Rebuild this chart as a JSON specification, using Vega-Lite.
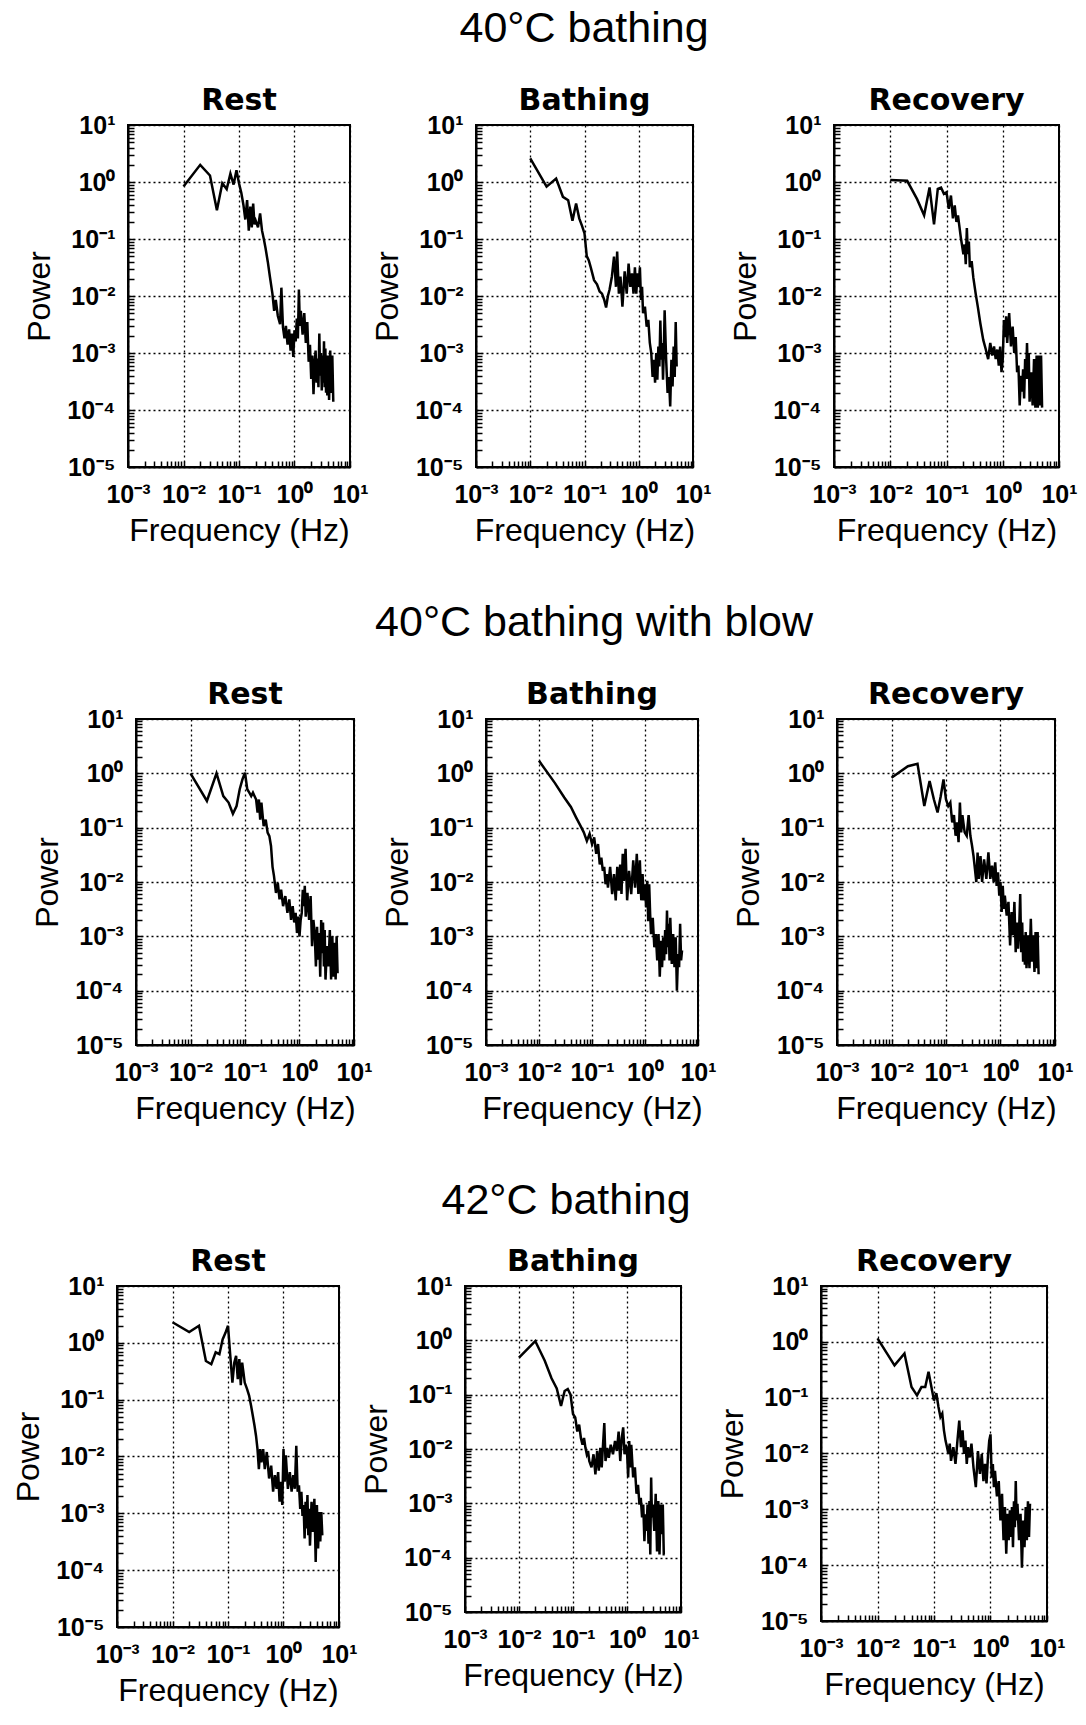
{
  "$schema": "https://vega.github.io/schema/vega-lite/v6.json",
  "padding": {"left": 2, "top": 8, "right": 0, "bottom": 0},
  "background": "white",
  "spacing": 55,
  "vconcat": [
    {
      "title": {"text": "40°C bathing", "font": "Liberation Sans", "fontSize": 43, "fontWeight": "normal", "frame": "bounds", "anchor": "middle", "baseline": "alphabetic", "offset": 0, "dx": 44},
      "spacing": 0,
      "hconcat": [
        {"width": 20, "height": 10, "view": {"stroke": null}, "data": {"values": [{}]}, "mark": {"type": "point", "opacity": 0, "size": 0}},
        {
          "width": 222, "height": 342, "title": "Rest",
          "data": {"values": [{"f":0.01,"p":0.83},{"f":0.02,"p":2.0},{"f":0.03,"p":1.3},{"f":0.04,"p":0.32},{"f":0.05,"p":0.95},{"f":0.06,"p":0.75},{"f":0.07,"p":1.4},{"f":0.08,"p":0.9},{"f":0.09,"p":1.6},{"f":0.10,"p":0.95},{"f":0.11,"p":0.65},{"f":0.12,"p":0.4},{"f":0.13,"p":0.22},{"f":0.14,"p":0.48},{"f":0.15,"p":0.14},{"f":0.16,"p":0.37},{"f":0.17,"p":0.16},{"f":0.18,"p":0.42},{"f":0.19,"p":0.18},{"f":0.20,"p":0.21},{"f":0.22,"p":0.16},{"f":0.24,"p":0.28},{"f":0.26,"p":0.14},{"f":0.28,"p":0.10},{"f":0.30,"p":0.07},{"f":0.33,"p":0.04},{"f":0.36,"p":0.022},{"f":0.40,"p":0.011},{"f":0.43,"p":0.0055},{"f":0.46,"p":0.0085},{"f":0.50,"p":0.0045},{"f":0.55,"p":0.0032},{"f":0.58,"p":0.014},{"f":0.62,"p":0.0028},{"f":0.66,"p":0.0018},{"f":0.70,"p":0.003},{"f":0.75,"p":0.0014},{"f":0.80,"p":0.0026},{"f":0.85,"p":0.0011},{"f":0.90,"p":0.0022},{"f":0.95,"p":0.00085},{"f":1.0,"p":0.0025},{"f":1.05,"p":0.0016},{"f":1.1,"p":0.004},{"f":1.15,"p":0.0018},{"f":1.2,"p":0.013},{"f":1.25,"p":0.003},{"f":1.3,"p":0.0055},{"f":1.4,"p":0.0021},{"f":1.5,"p":0.005},{"f":1.6,"p":0.0015},{"f":1.7,"p":0.0035},{"f":1.8,"p":0.0007},{"f":1.9,"p":0.0014},{"f":2.0,"p":0.00035},{"f":2.1,"p":0.0009},{"f":2.2,"p":0.00019},{"f":2.3,"p":0.0006},{"f":2.4,"p":0.0011},{"f":2.5,"p":0.0003},{"f":2.6,"p":0.0008},{"f":2.7,"p":0.00025},{"f":2.8,"p":0.0022},{"f":2.9,"p":0.0004},{"f":3.0,"p":0.001},{"f":3.1,"p":0.00022},{"f":3.2,"p":0.0009},{"f":3.3,"p":0.0003},{"f":3.4,"p":0.0016},{"f":3.5,"p":0.00025},{"f":3.6,"p":0.0012},{"f":3.7,"p":0.0002},{"f":3.8,"p":0.0008},{"f":3.9,"p":0.00018},{"f":4.0,"p":0.0009},{"f":4.2,"p":0.00015},{"f":4.4,"p":0.0011},{"f":4.6,"p":0.0002},{"f":4.8,"p":0.0009},{"f":5.0,"p":0.00014}]},
          "mark": {"type": "line", "color": "black", "strokeWidth": 2.5, "clip": true},
          "encoding": {
            "x": {"field": "f", "type": "quantitative", "scale": {"type": "log", "domain": [0.001, 10], "nice": false}, "axis": {"title": "Frequency (Hz)", "values": [0.001,0.002,0.003,0.004,0.005,0.006,0.007,0.008,0.009,0.01,0.02,0.03,0.04,0.05,0.06,0.07,0.08,0.09,0.1,0.2,0.3,0.4,0.5,0.6,0.7,0.8,0.9,1,2,3,4,5,6,7,8,9,10], "labelExpr": "abs(log(datum.value)/LN10-round(log(datum.value)/LN10))<0.01 ? '10'+['⁻³','⁻²','⁻¹','⁰','¹'][round(log(datum.value)/LN10)+3] : ''", "grid": true, "gridOpacity": {"condition": {"test": "abs(log(datum.value)/LN10-round(log(datum.value)/LN10))<0.01", "value": 1}, "value": 0}}},
            "y": {"field": "p", "type": "quantitative", "scale": {"type": "log", "domain": [0.00001, 10], "nice": false}, "axis": {"title": "Power", "values": [0.00001,0.00002,0.00003,0.00004,0.00005,0.00006,0.00007,0.00008,0.00009,0.0001,0.0002,0.0003,0.0004,0.0005,0.0006,0.0007,0.0008,0.0009,0.001,0.002,0.003,0.004,0.005,0.006,0.007,0.008,0.009,0.01,0.02,0.03,0.04,0.05,0.06,0.07,0.08,0.09,0.1,0.2,0.3,0.4,0.5,0.6,0.7,0.8,0.9,1,2,3,4,5,6,7,8,9,10], "labelExpr": "abs(log(datum.value)/LN10-round(log(datum.value)/LN10))<0.01 ? '10'+['⁻⁵','⁻⁴','⁻³','⁻²','⁻¹','⁰','¹'][round(log(datum.value)/LN10)+5] : ''", "grid": true, "gridOpacity": {"condition": {"test": "abs(log(datum.value)/LN10-round(log(datum.value)/LN10))<0.01", "value": 1}, "value": 0}}}
          }
        },
        {
          "width": 217, "height": 342, "title": "Bathing",
          "data": {"values": [{"f":0.01,"p":2.6},{"f":0.02,"p":0.83},{"f":0.03,"p":1.15},{"f":0.04,"p":0.55},{"f":0.05,"p":0.48},{"f":0.06,"p":0.21},{"f":0.07,"p":0.42},{"f":0.08,"p":0.23},{"f":0.09,"p":0.17},{"f":0.10,"p":0.125},{"f":0.11,"p":0.05},{"f":0.12,"p":0.042},{"f":0.13,"p":0.032},{"f":0.15,"p":0.019},{"f":0.17,"p":0.016},{"f":0.19,"p":0.012},{"f":0.21,"p":0.011},{"f":0.23,"p":0.0087},{"f":0.25,"p":0.0063},{"f":0.27,"p":0.01},{"f":0.29,"p":0.013},{"f":0.32,"p":0.022},{"f":0.35,"p":0.049},{"f":0.38,"p":0.0145},{"f":0.40,"p":0.06},{"f":0.43,"p":0.011},{"f":0.46,"p":0.022},{"f":0.50,"p":0.0065},{"f":0.55,"p":0.027},{"f":0.60,"p":0.011},{"f":0.65,"p":0.037},{"f":0.70,"p":0.0145},{"f":0.75,"p":0.025},{"f":0.80,"p":0.011},{"f":0.85,"p":0.032},{"f":0.90,"p":0.011},{"f":0.95,"p":0.025},{"f":1.0,"p":0.0145},{"f":1.05,"p":0.032},{"f":1.1,"p":0.0085},{"f":1.15,"p":0.0145},{"f":1.2,"p":0.005},{"f":1.3,"p":0.0065},{"f":1.4,"p":0.0029},{"f":1.5,"p":0.0038},{"f":1.6,"p":0.0015},{"f":1.7,"p":0.001},{"f":1.8,"p":0.00038},{"f":1.9,"p":0.00076},{"f":2.0,"p":0.0003},{"f":2.1,"p":0.001},{"f":2.2,"p":0.00034},{"f":2.3,"p":0.0013},{"f":2.4,"p":0.00058},{"f":2.5,"p":0.0037},{"f":2.6,"p":0.00076},{"f":2.7,"p":0.0015},{"f":2.8,"p":0.00034},{"f":2.9,"p":0.0011},{"f":3.0,"p":0.0056},{"f":3.2,"p":0.00076},{"f":3.4,"p":0.0002},{"f":3.6,"p":0.00038},{"f":3.8,"p":0.000115},{"f":4.0,"p":0.00076},{"f":4.2,"p":0.00026},{"f":4.4,"p":0.0013},{"f":4.6,"p":0.00038},{"f":4.8,"p":0.0035},{"f":5.0,"p":0.00058}]},
          "mark": {"type": "line", "color": "black", "strokeWidth": 2.5, "clip": true},
          "encoding": {
            "x": {"field": "f", "type": "quantitative", "scale": {"type": "log", "domain": [0.001, 10], "nice": false}, "axis": {"title": "Frequency (Hz)", "values": [0.001,0.002,0.003,0.004,0.005,0.006,0.007,0.008,0.009,0.01,0.02,0.03,0.04,0.05,0.06,0.07,0.08,0.09,0.1,0.2,0.3,0.4,0.5,0.6,0.7,0.8,0.9,1,2,3,4,5,6,7,8,9,10], "labelExpr": "abs(log(datum.value)/LN10-round(log(datum.value)/LN10))<0.01 ? '10'+['⁻³','⁻²','⁻¹','⁰','¹'][round(log(datum.value)/LN10)+3] : ''", "grid": true, "gridOpacity": {"condition": {"test": "abs(log(datum.value)/LN10-round(log(datum.value)/LN10))<0.01", "value": 1}, "value": 0}}},
            "y": {"field": "p", "type": "quantitative", "scale": {"type": "log", "domain": [0.00001, 10], "nice": false}, "axis": {"title": "Power", "values": [0.00001,0.00002,0.00003,0.00004,0.00005,0.00006,0.00007,0.00008,0.00009,0.0001,0.0002,0.0003,0.0004,0.0005,0.0006,0.0007,0.0008,0.0009,0.001,0.002,0.003,0.004,0.005,0.006,0.007,0.008,0.009,0.01,0.02,0.03,0.04,0.05,0.06,0.07,0.08,0.09,0.1,0.2,0.3,0.4,0.5,0.6,0.7,0.8,0.9,1,2,3,4,5,6,7,8,9,10], "labelExpr": "abs(log(datum.value)/LN10-round(log(datum.value)/LN10))<0.01 ? '10'+['⁻⁵','⁻⁴','⁻³','⁻²','⁻¹','⁰','¹'][round(log(datum.value)/LN10)+5] : ''", "grid": true, "gridOpacity": {"condition": {"test": "abs(log(datum.value)/LN10-round(log(datum.value)/LN10))<0.01", "value": 1}, "value": 0}}}
          }
        },
        {"width": 15, "height": 10, "view": {"stroke": null}, "data": {"values": [{}]}, "mark": {"type": "point", "opacity": 0, "size": 0}},
        {
          "width": 225, "height": 342, "title": "Recovery",
          "data": {"values": [{"f":0.01,"p":1.08},{"f":0.02,"p":1.05},{"f":0.03,"p":0.5},{"f":0.04,"p":0.26},{"f":0.05,"p":0.8},{"f":0.06,"p":0.18},{"f":0.07,"p":0.76},{"f":0.08,"p":0.8},{"f":0.09,"p":0.62},{"f":0.10,"p":0.66},{"f":0.11,"p":0.34},{"f":0.12,"p":0.58},{"f":0.13,"p":0.23},{"f":0.14,"p":0.39},{"f":0.15,"p":0.2},{"f":0.16,"p":0.26},{"f":0.18,"p":0.105},{"f":0.20,"p":0.054},{"f":0.21,"p":0.08},{"f":0.22,"p":0.036},{"f":0.23,"p":0.155},{"f":0.24,"p":0.054},{"f":0.25,"p":0.09},{"f":0.26,"p":0.032},{"f":0.28,"p":0.041},{"f":0.30,"p":0.021},{"f":0.33,"p":0.011},{"f":0.36,"p":0.0065},{"f":0.40,"p":0.0033},{"f":0.45,"p":0.0017},{"f":0.50,"p":0.00115},{"f":0.55,"p":0.00078},{"f":0.60,"p":0.0015},{"f":0.65,"p":0.0009},{"f":0.70,"p":0.0013},{"f":0.75,"p":0.00078},{"f":0.80,"p":0.00115},{"f":0.85,"p":0.0006},{"f":0.90,"p":0.0013},{"f":0.95,"p":0.00046},{"f":1.0,"p":0.00078},{"f":1.05,"p":0.0038},{"f":1.1,"p":0.0019},{"f":1.15,"p":0.0044},{"f":1.2,"p":0.0015},{"f":1.3,"p":0.005},{"f":1.4,"p":0.0013},{"f":1.5,"p":0.0029},{"f":1.6,"p":0.001},{"f":1.7,"p":0.0019},{"f":1.8,"p":0.00046},{"f":1.9,"p":0.0006},{"f":2.0,"p":0.00012},{"f":2.1,"p":0.0004},{"f":2.2,"p":0.00021},{"f":2.3,"p":0.00052},{"f":2.4,"p":0.00016},{"f":2.5,"p":0.00078},{"f":2.6,"p":0.00035},{"f":2.7,"p":0.0015},{"f":2.8,"p":0.00035},{"f":2.9,"p":0.001},{"f":3.0,"p":0.00014},{"f":3.2,"p":0.00046},{"f":3.4,"p":0.00012},{"f":3.6,"p":0.00078},{"f":3.8,"p":0.00011},{"f":4.0,"p":0.0009},{"f":4.2,"p":0.00011},{"f":4.4,"p":0.0009},{"f":4.6,"p":0.00012},{"f":4.8,"p":0.0009},{"f":5.0,"p":0.00011}]},
          "mark": {"type": "line", "color": "black", "strokeWidth": 2.5, "clip": true},
          "encoding": {
            "x": {"field": "f", "type": "quantitative", "scale": {"type": "log", "domain": [0.001, 10], "nice": false}, "axis": {"title": "Frequency (Hz)", "values": [0.001,0.002,0.003,0.004,0.005,0.006,0.007,0.008,0.009,0.01,0.02,0.03,0.04,0.05,0.06,0.07,0.08,0.09,0.1,0.2,0.3,0.4,0.5,0.6,0.7,0.8,0.9,1,2,3,4,5,6,7,8,9,10], "labelExpr": "abs(log(datum.value)/LN10-round(log(datum.value)/LN10))<0.01 ? '10'+['⁻³','⁻²','⁻¹','⁰','¹'][round(log(datum.value)/LN10)+3] : ''", "grid": true, "gridOpacity": {"condition": {"test": "abs(log(datum.value)/LN10-round(log(datum.value)/LN10))<0.01", "value": 1}, "value": 0}}},
            "y": {"field": "p", "type": "quantitative", "scale": {"type": "log", "domain": [0.00001, 10], "nice": false}, "axis": {"title": "Power", "values": [0.00001,0.00002,0.00003,0.00004,0.00005,0.00006,0.00007,0.00008,0.00009,0.0001,0.0002,0.0003,0.0004,0.0005,0.0006,0.0007,0.0008,0.0009,0.001,0.002,0.003,0.004,0.005,0.006,0.007,0.008,0.009,0.01,0.02,0.03,0.04,0.05,0.06,0.07,0.08,0.09,0.1,0.2,0.3,0.4,0.5,0.6,0.7,0.8,0.9,1,2,3,4,5,6,7,8,9,10], "labelExpr": "abs(log(datum.value)/LN10-round(log(datum.value)/LN10))<0.01 ? '10'+['⁻⁵','⁻⁴','⁻³','⁻²','⁻¹','⁰','¹'][round(log(datum.value)/LN10)+5] : ''", "grid": true, "gridOpacity": {"condition": {"test": "abs(log(datum.value)/LN10-round(log(datum.value)/LN10))<0.01", "value": 1}, "value": 0}}}
          }
        }
      ]
    },
    {
      "title": {"text": "40°C bathing with blow", "font": "Liberation Sans", "fontSize": 43, "fontWeight": "normal", "frame": "bounds", "anchor": "middle", "baseline": "alphabetic", "offset": 0, "dx": 56},
      "spacing": 0,
      "hconcat": [
        {"width": 28, "height": 10, "view": {"stroke": null}, "data": {"values": [{}]}, "mark": {"type": "point", "opacity": 0, "size": 0}},
        {
          "width": 218, "height": 326, "title": "Rest",
          "data": {"values": [{"f":0.01,"p":1.0},{"f":0.02,"p":0.31},{"f":0.03,"p":1.0},{"f":0.04,"p":0.38},{"f":0.05,"p":0.29},{"f":0.06,"p":0.18},{"f":0.07,"p":0.25},{"f":0.08,"p":0.51},{"f":0.09,"p":0.78},{"f":0.10,"p":1.03},{"f":0.11,"p":0.51},{"f":0.12,"p":0.44},{"f":0.13,"p":0.38},{"f":0.14,"p":0.44},{"f":0.15,"p":0.38},{"f":0.16,"p":0.33},{"f":0.17,"p":0.19},{"f":0.18,"p":0.33},{"f":0.19,"p":0.14},{"f":0.20,"p":0.29},{"f":0.22,"p":0.107},{"f":0.24,"p":0.14},{"f":0.26,"p":0.081},{"f":0.28,"p":0.07},{"f":0.30,"p":0.046},{"f":0.32,"p":0.019},{"f":0.34,"p":0.013},{"f":0.37,"p":0.0063},{"f":0.40,"p":0.0096},{"f":0.43,"p":0.0048},{"f":0.46,"p":0.0072},{"f":0.50,"p":0.0036},{"f":0.55,"p":0.0055},{"f":0.60,"p":0.0027},{"f":0.65,"p":0.0048},{"f":0.70,"p":0.002},{"f":0.75,"p":0.0036},{"f":0.80,"p":0.0018},{"f":0.85,"p":0.0027},{"f":0.90,"p":0.00115},{"f":0.95,"p":0.0023},{"f":1.0,"p":0.001},{"f":1.05,"p":0.002},{"f":1.1,"p":0.0027},{"f":1.15,"p":0.0072},{"f":1.2,"p":0.0036},{"f":1.25,"p":0.0085},{"f":1.3,"p":0.0023},{"f":1.4,"p":0.0063},{"f":1.5,"p":0.002},{"f":1.6,"p":0.0055},{"f":1.7,"p":0.00066},{"f":1.8,"p":0.002},{"f":1.9,"p":0.00115},{"f":2.0,"p":0.00028},{"f":2.1,"p":0.0015},{"f":2.2,"p":0.00037},{"f":2.3,"p":0.00115},{"f":2.4,"p":0.00018},{"f":2.5,"p":0.002},{"f":2.6,"p":0.00049},{"f":2.7,"p":0.0018},{"f":2.8,"p":0.00028},{"f":2.9,"p":0.0013},{"f":3.0,"p":0.00016},{"f":3.2,"p":0.00066},{"f":3.4,"p":0.00028},{"f":3.6,"p":0.0013},{"f":3.8,"p":0.00016},{"f":4.0,"p":0.001},{"f":4.2,"p":0.00018},{"f":4.4,"p":0.00076},{"f":4.6,"p":0.00016},{"f":4.8,"p":0.001},{"f":5.0,"p":0.00021}]},
          "mark": {"type": "line", "color": "black", "strokeWidth": 2.5, "clip": true},
          "encoding": {
            "x": {"field": "f", "type": "quantitative", "scale": {"type": "log", "domain": [0.001, 10], "nice": false}, "axis": {"title": "Frequency (Hz)", "values": [0.001,0.002,0.003,0.004,0.005,0.006,0.007,0.008,0.009,0.01,0.02,0.03,0.04,0.05,0.06,0.07,0.08,0.09,0.1,0.2,0.3,0.4,0.5,0.6,0.7,0.8,0.9,1,2,3,4,5,6,7,8,9,10], "labelExpr": "abs(log(datum.value)/LN10-round(log(datum.value)/LN10))<0.01 ? '10'+['⁻³','⁻²','⁻¹','⁰','¹'][round(log(datum.value)/LN10)+3] : ''", "grid": true, "gridOpacity": {"condition": {"test": "abs(log(datum.value)/LN10-round(log(datum.value)/LN10))<0.01", "value": 1}, "value": 0}}},
            "y": {"field": "p", "type": "quantitative", "scale": {"type": "log", "domain": [0.00001, 10], "nice": false}, "axis": {"title": "Power", "values": [0.00001,0.00002,0.00003,0.00004,0.00005,0.00006,0.00007,0.00008,0.00009,0.0001,0.0002,0.0003,0.0004,0.0005,0.0006,0.0007,0.0008,0.0009,0.001,0.002,0.003,0.004,0.005,0.006,0.007,0.008,0.009,0.01,0.02,0.03,0.04,0.05,0.06,0.07,0.08,0.09,0.1,0.2,0.3,0.4,0.5,0.6,0.7,0.8,0.9,1,2,3,4,5,6,7,8,9,10], "labelExpr": "abs(log(datum.value)/LN10-round(log(datum.value)/LN10))<0.01 ? '10'+['⁻⁵','⁻⁴','⁻³','⁻²','⁻¹','⁰','¹'][round(log(datum.value)/LN10)+5] : ''", "grid": true, "gridOpacity": {"condition": {"test": "abs(log(datum.value)/LN10-round(log(datum.value)/LN10))<0.01", "value": 1}, "value": 0}}}
          }
        },
        {"width": 6, "height": 10, "view": {"stroke": null}, "data": {"values": [{}]}, "mark": {"type": "point", "opacity": 0, "size": 0}},
        {
          "width": 212, "height": 326, "title": "Bathing",
          "data": {"values": [{"f":0.01,"p":1.7},{"f":0.02,"p":0.66},{"f":0.03,"p":0.36},{"f":0.04,"p":0.24},{"f":0.05,"p":0.155},{"f":0.06,"p":0.11},{"f":0.07,"p":0.082},{"f":0.08,"p":0.057},{"f":0.09,"p":0.077},{"f":0.10,"p":0.05},{"f":0.11,"p":0.066},{"f":0.12,"p":0.033},{"f":0.13,"p":0.05},{"f":0.14,"p":0.021},{"f":0.15,"p":0.028},{"f":0.16,"p":0.016},{"f":0.17,"p":0.019},{"f":0.18,"p":0.0091},{"f":0.19,"p":0.014},{"f":0.20,"p":0.0079},{"f":0.22,"p":0.019},{"f":0.24,"p":0.006},{"f":0.26,"p":0.014},{"f":0.28,"p":0.0046},{"f":0.30,"p":0.019},{"f":0.32,"p":0.0069},{"f":0.34,"p":0.021},{"f":0.36,"p":0.006},{"f":0.38,"p":0.033},{"f":0.40,"p":0.0105},{"f":0.43,"p":0.041},{"f":0.46,"p":0.0046},{"f":0.50,"p":0.016},{"f":0.55,"p":0.006},{"f":0.60,"p":0.025},{"f":0.65,"p":0.0079},{"f":0.70,"p":0.033},{"f":0.75,"p":0.006},{"f":0.80,"p":0.025},{"f":0.85,"p":0.0046},{"f":0.90,"p":0.014},{"f":0.95,"p":0.0046},{"f":1.0,"p":0.0091},{"f":1.05,"p":0.0034},{"f":1.1,"p":0.0105},{"f":1.15,"p":0.0019},{"f":1.2,"p":0.0091},{"f":1.25,"p":0.0026},{"f":1.3,"p":0.0011},{"f":1.4,"p":0.0022},{"f":1.5,"p":0.00063},{"f":1.6,"p":0.0011},{"f":1.7,"p":0.00036},{"f":1.8,"p":0.0011},{"f":1.9,"p":0.00018},{"f":2.0,"p":0.00083},{"f":2.1,"p":0.00027},{"f":2.2,"p":0.00096},{"f":2.3,"p":0.00036},{"f":2.4,"p":0.0013},{"f":2.5,"p":0.00047},{"f":2.6,"p":0.003},{"f":2.7,"p":0.00063},{"f":2.8,"p":0.0017},{"f":2.9,"p":0.00036},{"f":3.0,"p":0.0022},{"f":3.2,"p":0.00031},{"f":3.4,"p":0.0011},{"f":3.6,"p":0.00027},{"f":3.8,"p":0.00096},{"f":4.0,"p":0.0001},{"f":4.2,"p":0.00047},{"f":4.4,"p":0.00027},{"f":4.6,"p":0.0017},{"f":4.8,"p":0.00036},{"f":5.0,"p":0.00055}]},
          "mark": {"type": "line", "color": "black", "strokeWidth": 2.5, "clip": true},
          "encoding": {
            "x": {"field": "f", "type": "quantitative", "scale": {"type": "log", "domain": [0.001, 10], "nice": false}, "axis": {"title": "Frequency (Hz)", "values": [0.001,0.002,0.003,0.004,0.005,0.006,0.007,0.008,0.009,0.01,0.02,0.03,0.04,0.05,0.06,0.07,0.08,0.09,0.1,0.2,0.3,0.4,0.5,0.6,0.7,0.8,0.9,1,2,3,4,5,6,7,8,9,10], "labelExpr": "abs(log(datum.value)/LN10-round(log(datum.value)/LN10))<0.01 ? '10'+['⁻³','⁻²','⁻¹','⁰','¹'][round(log(datum.value)/LN10)+3] : ''", "grid": true, "gridOpacity": {"condition": {"test": "abs(log(datum.value)/LN10-round(log(datum.value)/LN10))<0.01", "value": 1}, "value": 0}}},
            "y": {"field": "p", "type": "quantitative", "scale": {"type": "log", "domain": [0.00001, 10], "nice": false}, "axis": {"title": "Power", "values": [0.00001,0.00002,0.00003,0.00004,0.00005,0.00006,0.00007,0.00008,0.00009,0.0001,0.0002,0.0003,0.0004,0.0005,0.0006,0.0007,0.0008,0.0009,0.001,0.002,0.003,0.004,0.005,0.006,0.007,0.008,0.009,0.01,0.02,0.03,0.04,0.05,0.06,0.07,0.08,0.09,0.1,0.2,0.3,0.4,0.5,0.6,0.7,0.8,0.9,1,2,3,4,5,6,7,8,9,10], "labelExpr": "abs(log(datum.value)/LN10-round(log(datum.value)/LN10))<0.01 ? '10'+['⁻⁵','⁻⁴','⁻³','⁻²','⁻¹','⁰','¹'][round(log(datum.value)/LN10)+5] : ''", "grid": true, "gridOpacity": {"condition": {"test": "abs(log(datum.value)/LN10-round(log(datum.value)/LN10))<0.01", "value": 1}, "value": 0}}}
          }
        },
        {"width": 13, "height": 10, "view": {"stroke": null}, "data": {"values": [{}]}, "mark": {"type": "point", "opacity": 0, "size": 0}},
        {
          "width": 218, "height": 326, "title": "Recovery",
          "data": {"values": [{"f":0.01,"p":0.83},{"f":0.02,"p":1.35},{"f":0.03,"p":1.5},{"f":0.04,"p":0.25},{"f":0.05,"p":0.72},{"f":0.06,"p":0.33},{"f":0.07,"p":0.19},{"f":0.08,"p":0.38},{"f":0.09,"p":0.77},{"f":0.10,"p":0.33},{"f":0.11,"p":0.25},{"f":0.12,"p":0.29},{"f":0.13,"p":0.125},{"f":0.14,"p":0.17},{"f":0.15,"p":0.071},{"f":0.16,"p":0.125},{"f":0.17,"p":0.054},{"f":0.18,"p":0.29},{"f":0.19,"p":0.082},{"f":0.20,"p":0.17},{"f":0.22,"p":0.082},{"f":0.24,"p":0.071},{"f":0.26,"p":0.17},{"f":0.28,"p":0.071},{"f":0.30,"p":0.047},{"f":0.32,"p":0.03},{"f":0.34,"p":0.017},{"f":0.36,"p":0.01},{"f":0.38,"p":0.035},{"f":0.40,"p":0.0114},{"f":0.43,"p":0.03},{"f":0.46,"p":0.01},{"f":0.50,"p":0.026},{"f":0.55,"p":0.0114},{"f":0.60,"p":0.035},{"f":0.65,"p":0.0114},{"f":0.70,"p":0.02},{"f":0.75,"p":0.01},{"f":0.80,"p":0.023},{"f":0.85,"p":0.0085},{"f":0.90,"p":0.015},{"f":0.95,"p":0.0056},{"f":1.0,"p":0.01},{"f":1.05,"p":0.0028},{"f":1.1,"p":0.0085},{"f":1.15,"p":0.0032},{"f":1.2,"p":0.0056},{"f":1.3,"p":0.0024},{"f":1.4,"p":0.0043},{"f":1.5,"p":0.00068},{"f":1.6,"p":0.0028},{"f":1.7,"p":0.00105},{"f":1.8,"p":0.0043},{"f":1.9,"p":0.00051},{"f":2.0,"p":0.0018},{"f":2.1,"p":0.00059},{"f":2.2,"p":0.0014},{"f":2.3,"p":0.006},{"f":2.4,"p":0.00051},{"f":2.5,"p":0.0018},{"f":2.6,"p":0.00034},{"f":2.7,"p":0.00105},{"f":2.8,"p":0.0003},{"f":2.9,"p":0.0012},{"f":3.0,"p":0.00026},{"f":3.2,"p":0.00105},{"f":3.4,"p":0.00026},{"f":3.6,"p":0.0021},{"f":3.8,"p":0.00034},{"f":4.0,"p":0.00105},{"f":4.2,"p":0.00022},{"f":4.4,"p":0.0012},{"f":4.6,"p":0.00026},{"f":4.8,"p":0.0012},{"f":5.0,"p":0.0002}]},
          "mark": {"type": "line", "color": "black", "strokeWidth": 2.5, "clip": true},
          "encoding": {
            "x": {"field": "f", "type": "quantitative", "scale": {"type": "log", "domain": [0.001, 10], "nice": false}, "axis": {"title": "Frequency (Hz)", "values": [0.001,0.002,0.003,0.004,0.005,0.006,0.007,0.008,0.009,0.01,0.02,0.03,0.04,0.05,0.06,0.07,0.08,0.09,0.1,0.2,0.3,0.4,0.5,0.6,0.7,0.8,0.9,1,2,3,4,5,6,7,8,9,10], "labelExpr": "abs(log(datum.value)/LN10-round(log(datum.value)/LN10))<0.01 ? '10'+['⁻³','⁻²','⁻¹','⁰','¹'][round(log(datum.value)/LN10)+3] : ''", "grid": true, "gridOpacity": {"condition": {"test": "abs(log(datum.value)/LN10-round(log(datum.value)/LN10))<0.01", "value": 1}, "value": 0}}},
            "y": {"field": "p", "type": "quantitative", "scale": {"type": "log", "domain": [0.00001, 10], "nice": false}, "axis": {"title": "Power", "values": [0.00001,0.00002,0.00003,0.00004,0.00005,0.00006,0.00007,0.00008,0.00009,0.0001,0.0002,0.0003,0.0004,0.0005,0.0006,0.0007,0.0008,0.0009,0.001,0.002,0.003,0.004,0.005,0.006,0.007,0.008,0.009,0.01,0.02,0.03,0.04,0.05,0.06,0.07,0.08,0.09,0.1,0.2,0.3,0.4,0.5,0.6,0.7,0.8,0.9,1,2,3,4,5,6,7,8,9,10], "labelExpr": "abs(log(datum.value)/LN10-round(log(datum.value)/LN10))<0.01 ? '10'+['⁻⁵','⁻⁴','⁻³','⁻²','⁻¹','⁰','¹'][round(log(datum.value)/LN10)+5] : ''", "grid": true, "gridOpacity": {"condition": {"test": "abs(log(datum.value)/LN10-round(log(datum.value)/LN10))<0.01", "value": 1}, "value": 0}}}
          }
        }
      ]
    },
    {
      "title": {"text": "42°C bathing", "font": "Liberation Sans", "fontSize": 43, "fontWeight": "normal", "frame": "bounds", "anchor": "middle", "baseline": "alphabetic", "offset": -11, "dx": 32},
      "spacing": 0,
      "hconcat": [
        {"width": 9, "height": 10, "view": {"stroke": null}, "data": {"values": [{}]}, "mark": {"type": "point", "opacity": 0, "size": 0}},
        {
          "width": 222, "height": 341, "title": "Rest",
          "data": {"values": [{"f":0.01,"p":2.3},{"f":0.02,"p":1.55},{"f":0.03,"p":2.0},{"f":0.04,"p":0.48},{"f":0.05,"p":0.42},{"f":0.06,"p":0.68},{"f":0.07,"p":0.63},{"f":0.08,"p":1.15},{"f":0.09,"p":1.5},{"f":0.10,"p":2.0},{"f":0.11,"p":0.59},{"f":0.12,"p":0.2},{"f":0.13,"p":0.45},{"f":0.14,"p":0.59},{"f":0.15,"p":0.23},{"f":0.16,"p":0.52},{"f":0.17,"p":0.18},{"f":0.18,"p":0.45},{"f":0.19,"p":0.3},{"f":0.20,"p":0.2},{"f":0.22,"p":0.155},{"f":0.24,"p":0.118},{"f":0.26,"p":0.079},{"f":0.28,"p":0.052},{"f":0.30,"p":0.035},{"f":0.32,"p":0.023},{"f":0.34,"p":0.0135},{"f":0.36,"p":0.006},{"f":0.38,"p":0.0135},{"f":0.40,"p":0.0079},{"f":0.43,"p":0.0135},{"f":0.46,"p":0.006},{"f":0.50,"p":0.012},{"f":0.55,"p":0.0041},{"f":0.60,"p":0.0069},{"f":0.65,"p":0.0024},{"f":0.70,"p":0.0047},{"f":0.75,"p":0.0027},{"f":0.80,"p":0.0053},{"f":0.85,"p":0.0016},{"f":0.90,"p":0.0036},{"f":0.95,"p":0.0014},{"f":1.0,"p":0.0135},{"f":1.05,"p":0.0036},{"f":1.1,"p":0.0105},{"f":1.2,"p":0.0027},{"f":1.3,"p":0.0053},{"f":1.4,"p":0.0024},{"f":1.5,"p":0.0047},{"f":1.6,"p":0.0027},{"f":1.7,"p":0.0155},{"f":1.8,"p":0.0024},{"f":1.9,"p":0.0031},{"f":2.0,"p":0.0012},{"f":2.1,"p":0.0024},{"f":2.2,"p":0.0009},{"f":2.3,"p":0.0014},{"f":2.4,"p":0.00036},{"f":2.5,"p":0.0016},{"f":2.6,"p":0.00054},{"f":2.7,"p":0.0021},{"f":2.8,"p":0.00041},{"f":2.9,"p":0.0012},{"f":3.0,"p":0.00027},{"f":3.2,"p":0.0016},{"f":3.4,"p":0.00047},{"f":3.6,"p":0.0018},{"f":3.8,"p":0.00014},{"f":4.0,"p":0.0014},{"f":4.2,"p":0.00024},{"f":4.4,"p":0.00105},{"f":4.6,"p":0.00032},{"f":4.8,"p":0.00105},{"f":5.0,"p":0.00041}]},
          "mark": {"type": "line", "color": "black", "strokeWidth": 2.5, "clip": true},
          "encoding": {
            "x": {"field": "f", "type": "quantitative", "scale": {"type": "log", "domain": [0.001, 10], "nice": false}, "axis": {"title": "Frequency (Hz)", "values": [0.001,0.002,0.003,0.004,0.005,0.006,0.007,0.008,0.009,0.01,0.02,0.03,0.04,0.05,0.06,0.07,0.08,0.09,0.1,0.2,0.3,0.4,0.5,0.6,0.7,0.8,0.9,1,2,3,4,5,6,7,8,9,10], "labelExpr": "abs(log(datum.value)/LN10-round(log(datum.value)/LN10))<0.01 ? '10'+['⁻³','⁻²','⁻¹','⁰','¹'][round(log(datum.value)/LN10)+3] : ''", "grid": true, "gridOpacity": {"condition": {"test": "abs(log(datum.value)/LN10-round(log(datum.value)/LN10))<0.01", "value": 1}, "value": 0}}},
            "y": {"field": "p", "type": "quantitative", "scale": {"type": "log", "domain": [0.00001, 10], "nice": false}, "axis": {"title": "Power", "values": [0.00001,0.00002,0.00003,0.00004,0.00005,0.00006,0.00007,0.00008,0.00009,0.0001,0.0002,0.0003,0.0004,0.0005,0.0006,0.0007,0.0008,0.0009,0.001,0.002,0.003,0.004,0.005,0.006,0.007,0.008,0.009,0.01,0.02,0.03,0.04,0.05,0.06,0.07,0.08,0.09,0.1,0.2,0.3,0.4,0.5,0.6,0.7,0.8,0.9,1,2,3,4,5,6,7,8,9,10], "labelExpr": "abs(log(datum.value)/LN10-round(log(datum.value)/LN10))<0.01 ? '10'+['⁻⁵','⁻⁴','⁻³','⁻²','⁻¹','⁰','¹'][round(log(datum.value)/LN10)+5] : ''", "grid": true, "gridOpacity": {"condition": {"test": "abs(log(datum.value)/LN10-round(log(datum.value)/LN10))<0.01", "value": 1}, "value": 0}}}
          }
        },
        {
          "width": 216, "height": 326, "title": "Bathing",
          "data": {"values": [{"f":0.01,"p":0.48},{"f":0.02,"p":0.97},{"f":0.03,"p":0.42},{"f":0.04,"p":0.2},{"f":0.05,"p":0.13},{"f":0.06,"p":0.062},{"f":0.07,"p":0.117},{"f":0.08,"p":0.127},{"f":0.09,"p":0.1},{"f":0.10,"p":0.044},{"f":0.11,"p":0.038},{"f":0.12,"p":0.021},{"f":0.13,"p":0.028},{"f":0.14,"p":0.016},{"f":0.15,"p":0.012},{"f":0.16,"p":0.016},{"f":0.17,"p":0.0105},{"f":0.18,"p":0.008},{"f":0.19,"p":0.0092},{"f":0.20,"p":0.006},{"f":0.22,"p":0.0046},{"f":0.24,"p":0.008},{"f":0.26,"p":0.0034},{"f":0.28,"p":0.0092},{"f":0.30,"p":0.004},{"f":0.32,"p":0.0105},{"f":0.34,"p":0.0046},{"f":0.36,"p":0.012},{"f":0.38,"p":0.03},{"f":0.40,"p":0.006},{"f":0.43,"p":0.0105},{"f":0.46,"p":0.0069},{"f":0.50,"p":0.012},{"f":0.55,"p":0.008},{"f":0.60,"p":0.014},{"f":0.65,"p":0.0092},{"f":0.70,"p":0.021},{"f":0.75,"p":0.006},{"f":0.80,"p":0.016},{"f":0.85,"p":0.025},{"f":0.90,"p":0.008},{"f":0.95,"p":0.012},{"f":1.0,"p":0.0092},{"f":1.05,"p":0.003},{"f":1.1,"p":0.014},{"f":1.15,"p":0.0046},{"f":1.2,"p":0.012},{"f":1.3,"p":0.003},{"f":1.4,"p":0.0046},{"f":1.5,"p":0.0015},{"f":1.6,"p":0.0022},{"f":1.7,"p":0.00095},{"f":1.8,"p":0.00126},{"f":1.9,"p":0.00055},{"f":2.0,"p":0.00095},{"f":2.1,"p":0.0002},{"f":2.2,"p":0.00063},{"f":2.3,"p":0.00031},{"f":2.4,"p":0.00095},{"f":2.5,"p":0.00018},{"f":2.6,"p":0.0011},{"f":2.7,"p":0.000115},{"f":2.8,"p":0.003},{"f":2.9,"p":0.00055},{"f":3.0,"p":0.00095},{"f":3.2,"p":0.00031},{"f":3.4,"p":0.0015},{"f":3.6,"p":0.00013},{"f":3.8,"p":0.0011},{"f":4.0,"p":0.000115},{"f":4.2,"p":0.00095},{"f":4.4,"p":0.00027},{"f":4.6,"p":0.00095},{"f":4.8,"p":0.000115},{"f":5.0,"p":0.000115}]},
          "mark": {"type": "line", "color": "black", "strokeWidth": 2.5, "clip": true},
          "encoding": {
            "x": {"field": "f", "type": "quantitative", "scale": {"type": "log", "domain": [0.001, 10], "nice": false}, "axis": {"title": "Frequency (Hz)", "values": [0.001,0.002,0.003,0.004,0.005,0.006,0.007,0.008,0.009,0.01,0.02,0.03,0.04,0.05,0.06,0.07,0.08,0.09,0.1,0.2,0.3,0.4,0.5,0.6,0.7,0.8,0.9,1,2,3,4,5,6,7,8,9,10], "labelExpr": "abs(log(datum.value)/LN10-round(log(datum.value)/LN10))<0.01 ? '10'+['⁻³','⁻²','⁻¹','⁰','¹'][round(log(datum.value)/LN10)+3] : ''", "grid": true, "gridOpacity": {"condition": {"test": "abs(log(datum.value)/LN10-round(log(datum.value)/LN10))<0.01", "value": 1}, "value": 0}}},
            "y": {"field": "p", "type": "quantitative", "scale": {"type": "log", "domain": [0.00001, 10], "nice": false}, "axis": {"title": "Power", "values": [0.00001,0.00002,0.00003,0.00004,0.00005,0.00006,0.00007,0.00008,0.00009,0.0001,0.0002,0.0003,0.0004,0.0005,0.0006,0.0007,0.0008,0.0009,0.001,0.002,0.003,0.004,0.005,0.006,0.007,0.008,0.009,0.01,0.02,0.03,0.04,0.05,0.06,0.07,0.08,0.09,0.1,0.2,0.3,0.4,0.5,0.6,0.7,0.8,0.9,1,2,3,4,5,6,7,8,9,10], "labelExpr": "abs(log(datum.value)/LN10-round(log(datum.value)/LN10))<0.01 ? '10'+['⁻⁵','⁻⁴','⁻³','⁻²','⁻¹','⁰','¹'][round(log(datum.value)/LN10)+5] : ''", "grid": true, "gridOpacity": {"condition": {"test": "abs(log(datum.value)/LN10-round(log(datum.value)/LN10))<0.01", "value": 1}, "value": 0}}}
          }
        },
        {"width": 14, "height": 10, "view": {"stroke": null}, "data": {"values": [{}]}, "mark": {"type": "point", "opacity": 0, "size": 0}},
        {
          "width": 226, "height": 335, "title": "Recovery",
          "data": {"values": [{"f":0.01,"p":1.15},{"f":0.02,"p":0.38},{"f":0.03,"p":0.62},{"f":0.04,"p":0.155},{"f":0.05,"p":0.11},{"f":0.06,"p":0.155},{"f":0.07,"p":0.155},{"f":0.08,"p":0.29},{"f":0.09,"p":0.155},{"f":0.10,"p":0.089},{"f":0.11,"p":0.12},{"f":0.12,"p":0.068},{"f":0.13,"p":0.045},{"f":0.14,"p":0.052},{"f":0.15,"p":0.026},{"f":0.16,"p":0.017},{"f":0.17,"p":0.013},{"f":0.18,"p":0.0098},{"f":0.19,"p":0.015},{"f":0.20,"p":0.0074},{"f":0.22,"p":0.013},{"f":0.24,"p":0.0065},{"f":0.26,"p":0.017},{"f":0.28,"p":0.039},{"f":0.30,"p":0.013},{"f":0.32,"p":0.026},{"f":0.34,"p":0.0098},{"f":0.36,"p":0.017},{"f":0.38,"p":0.0065},{"f":0.40,"p":0.013},{"f":0.43,"p":0.0085},{"f":0.46,"p":0.015},{"f":0.50,"p":0.0056},{"f":0.55,"p":0.0025},{"f":0.60,"p":0.011},{"f":0.65,"p":0.0043},{"f":0.70,"p":0.0098},{"f":0.75,"p":0.0032},{"f":0.80,"p":0.0065},{"f":0.85,"p":0.0029},{"f":0.90,"p":0.0085},{"f":0.95,"p":0.017},{"f":1.0,"p":0.022},{"f":1.05,"p":0.0037},{"f":1.1,"p":0.0065},{"f":1.15,"p":0.0025},{"f":1.2,"p":0.0049},{"f":1.3,"p":0.0017},{"f":1.4,"p":0.0032},{"f":1.5,"p":0.00063},{"f":1.6,"p":0.0019},{"f":1.7,"p":0.00028},{"f":1.8,"p":0.0011},{"f":1.9,"p":0.00016},{"f":2.0,"p":0.00083},{"f":2.1,"p":0.00028},{"f":2.2,"p":0.00096},{"f":2.3,"p":0.00032},{"f":2.4,"p":0.0011},{"f":2.5,"p":0.00021},{"f":2.6,"p":0.0014},{"f":2.7,"p":0.00048},{"f":2.8,"p":0.0032},{"f":2.9,"p":0.00063},{"f":3.0,"p":0.00126},{"f":3.2,"p":0.00028},{"f":3.4,"p":0.00083},{"f":3.6,"p":0.00009},{"f":3.8,"p":0.00063},{"f":4.0,"p":0.00021},{"f":4.2,"p":0.0011},{"f":4.4,"p":0.00028},{"f":4.6,"p":0.0014},{"f":4.8,"p":0.00032},{"f":5.0,"p":0.00126}]},
          "mark": {"type": "line", "color": "black", "strokeWidth": 2.5, "clip": true},
          "encoding": {
            "x": {"field": "f", "type": "quantitative", "scale": {"type": "log", "domain": [0.001, 10], "nice": false}, "axis": {"title": "Frequency (Hz)", "values": [0.001,0.002,0.003,0.004,0.005,0.006,0.007,0.008,0.009,0.01,0.02,0.03,0.04,0.05,0.06,0.07,0.08,0.09,0.1,0.2,0.3,0.4,0.5,0.6,0.7,0.8,0.9,1,2,3,4,5,6,7,8,9,10], "labelExpr": "abs(log(datum.value)/LN10-round(log(datum.value)/LN10))<0.01 ? '10'+['⁻³','⁻²','⁻¹','⁰','¹'][round(log(datum.value)/LN10)+3] : ''", "grid": true, "gridOpacity": {"condition": {"test": "abs(log(datum.value)/LN10-round(log(datum.value)/LN10))<0.01", "value": 1}, "value": 0}}},
            "y": {"field": "p", "type": "quantitative", "scale": {"type": "log", "domain": [0.00001, 10], "nice": false}, "axis": {"title": "Power", "values": [0.00001,0.00002,0.00003,0.00004,0.00005,0.00006,0.00007,0.00008,0.00009,0.0001,0.0002,0.0003,0.0004,0.0005,0.0006,0.0007,0.0008,0.0009,0.001,0.002,0.003,0.004,0.005,0.006,0.007,0.008,0.009,0.01,0.02,0.03,0.04,0.05,0.06,0.07,0.08,0.09,0.1,0.2,0.3,0.4,0.5,0.6,0.7,0.8,0.9,1,2,3,4,5,6,7,8,9,10], "labelExpr": "abs(log(datum.value)/LN10-round(log(datum.value)/LN10))<0.01 ? '10'+['⁻⁵','⁻⁴','⁻³','⁻²','⁻¹','⁰','¹'][round(log(datum.value)/LN10)+5] : ''", "grid": true, "gridOpacity": {"condition": {"test": "abs(log(datum.value)/LN10-round(log(datum.value)/LN10))<0.01", "value": 1}, "value": 0}}}
          }
        }
      ]
    }
  ],
  "config": {
    "view": {"stroke": "black", "strokeWidth": 2},
    "axis": {"labelFont": "Liberation Sans", "labelFontWeight": "bold", "labelFontSize": 25, "labelColor": "black", "tickColor": "black", "tickWidth": 1.5, "tickSize": -6, "domainColor": "black", "domainWidth": 2, "gridColor": "black", "gridDash": [2, 3], "gridWidth": 1.3, "titleFont": "Liberation Sans", "titleFontSize": 32, "titleFontWeight": "normal", "titleColor": "black", "labelOverlap": false, "labelFlush": false},
    "axisX": {"labelPadding": 21, "titlePadding": 8},
    "axisY": {"labelPadding": 19, "titlePadding": 10},
    "title": {"font": "DejaVu Sans", "fontSize": 30, "fontWeight": "bold", "color": "black", "anchor": "middle", "frame": "group", "baseline": "alphabetic", "offset": -3}
  }
}
